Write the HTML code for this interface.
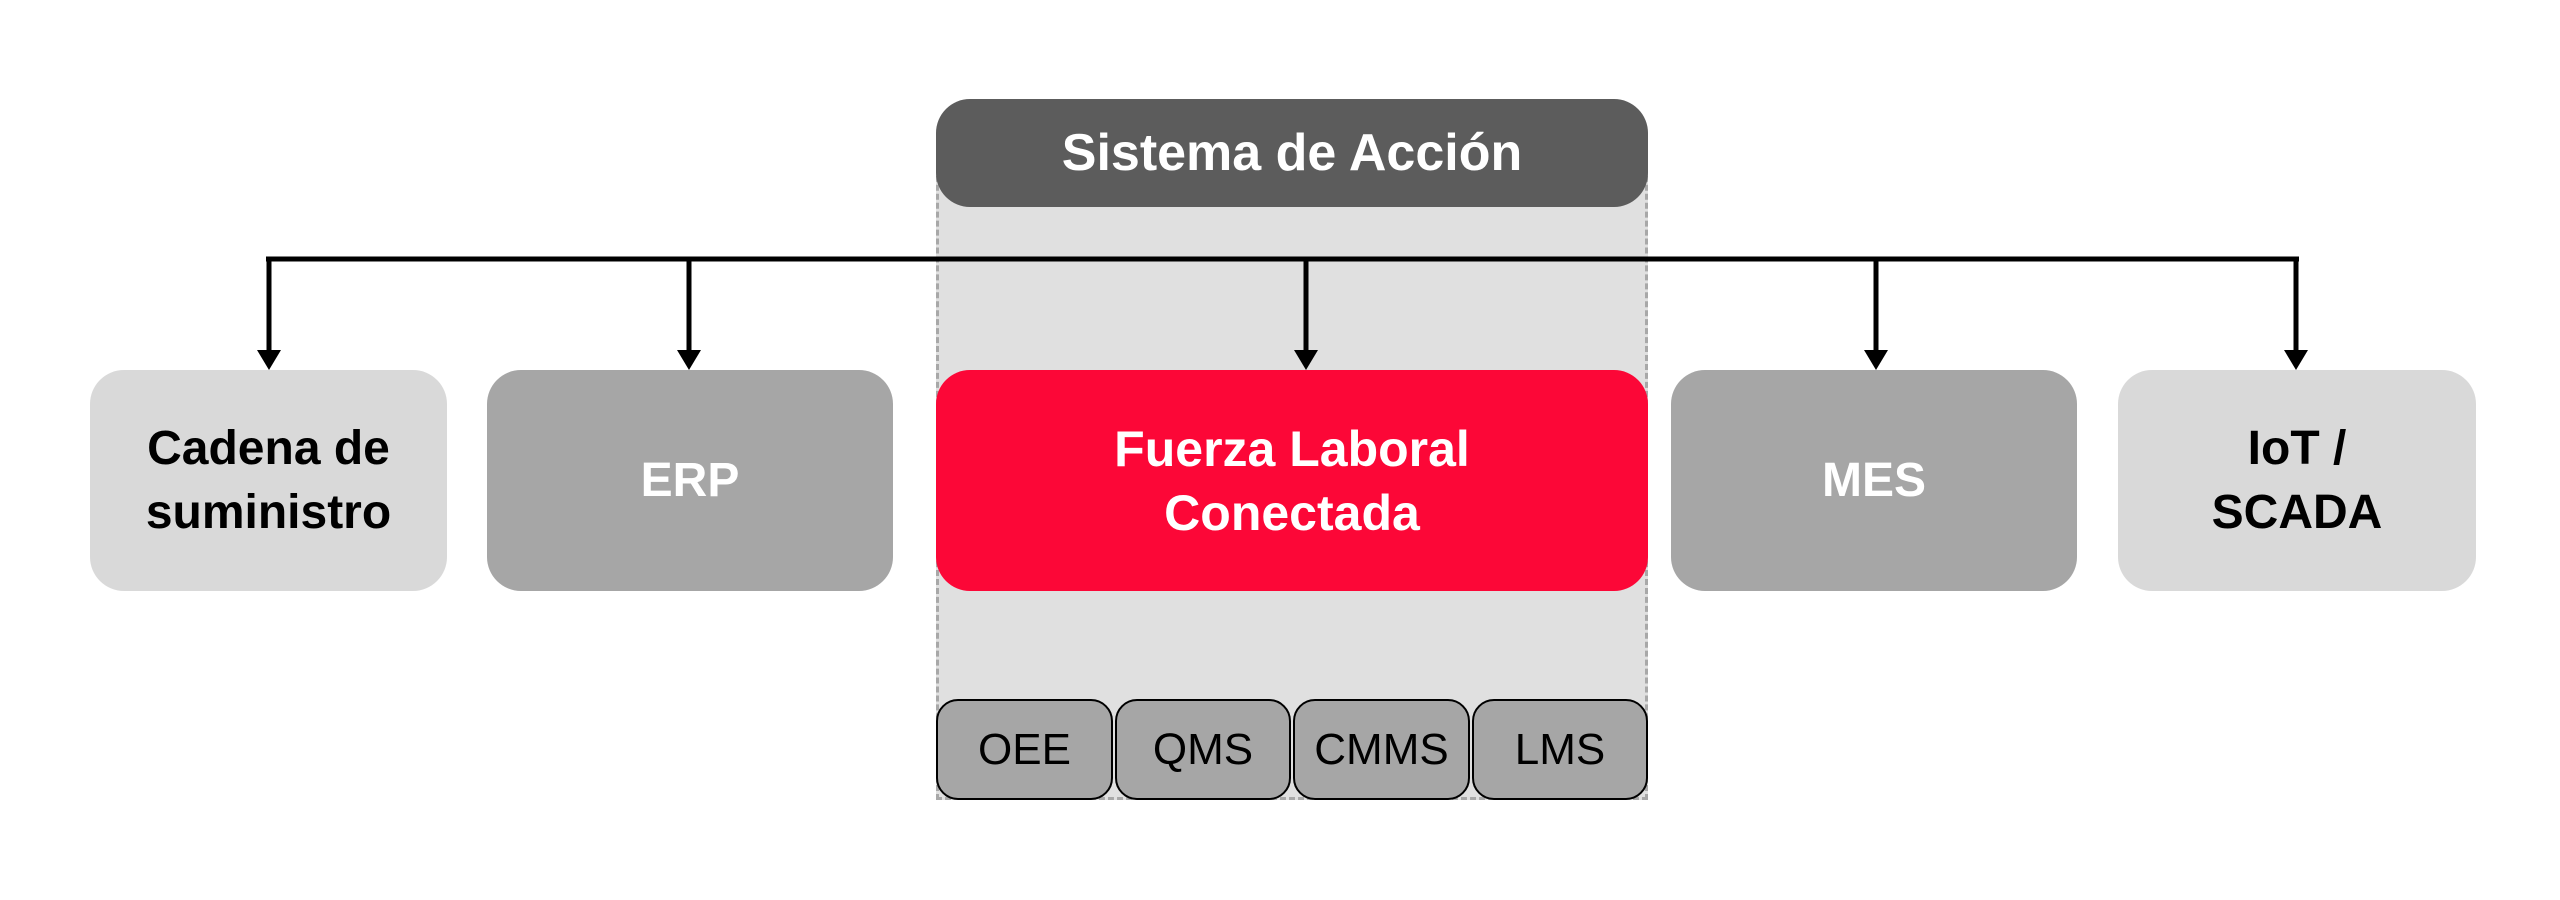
<!DOCTYPE html>
<html><head><meta charset="utf-8"><style>
body{margin:0;width:2560px;height:900px;background:#fff;position:relative;overflow:hidden;font-family:"Liberation Sans",sans-serif}
.b{position:absolute;display:flex;align-items:center;justify-content:center;text-align:center;font-weight:bold;box-sizing:border-box}
</style></head><body>
<div style="position:absolute;left:936px;top:140px;width:712px;height:660px;background:#e0e0e0;border-left:3px dashed #a8a8a8;border-right:3px dashed #a8a8a8;border-bottom:3px dashed #a8a8a8;box-sizing:border-box"></div>
<div class="b" style="left:936px;top:99px;width:712px;height:108px;background:#5c5c5c;border-radius:34px;color:#fff;font-size:52px">Sistema de Acción</div>
<svg style="position:absolute;left:0;top:0" width="2560" height="900">
<g stroke="#000" stroke-width="5" fill="none">
<path d="M266 259H2299"/>
<path d="M269 259V352M689 259V352M1306 259V352M1876 259V352M2296 259V352"/>
</g>
<g fill="#000">
<path d="M257 350h24l-12 20z"/><path d="M677 350h24l-12 20z"/><path d="M1294 350h24l-12 20z"/><path d="M1864 350h24l-12 20z"/><path d="M2284 350h24l-12 20z"/>
</g>
</svg>
<div class="b" style="left:90px;top:370px;width:357px;height:221px;background:#d9d9d9;border-radius:34px;color:#000;font-size:48px;line-height:64px">Cadena de<br>suministro</div>
<div class="b" style="left:487px;top:370px;width:406px;height:221px;background:#a6a6a6;border-radius:34px;color:#fff;font-size:48px">ERP</div>
<div class="b" style="left:936px;top:370px;width:712px;height:221px;background:#fc0737;border-radius:34px;color:#fff;font-size:50px;line-height:64px">Fuerza Laboral<br>Conectada</div>
<div class="b" style="left:1671px;top:370px;width:406px;height:221px;background:#a6a6a6;border-radius:34px;color:#fff;font-size:48px">MES</div>
<div class="b" style="left:2118px;top:370px;width:358px;height:221px;background:#d9d9d9;border-radius:34px;color:#000;font-size:48px;line-height:64px">IoT /<br>SCADA</div>
<div class="b" style="left:936px;top:699px;width:177px;height:101px;background:#a6a6a6;border:2px solid #000;border-radius:22px;font-weight:normal;font-size:44px">OEE</div>
<div class="b" style="left:1115px;top:699px;width:176px;height:101px;background:#a6a6a6;border:2px solid #000;border-radius:22px;font-weight:normal;font-size:44px">QMS</div>
<div class="b" style="left:1293px;top:699px;width:177px;height:101px;background:#a6a6a6;border:2px solid #000;border-radius:22px;font-weight:normal;font-size:44px">CMMS</div>
<div class="b" style="left:1472px;top:699px;width:176px;height:101px;background:#a6a6a6;border:2px solid #000;border-radius:22px;font-weight:normal;font-size:44px">LMS</div>
</body></html>
